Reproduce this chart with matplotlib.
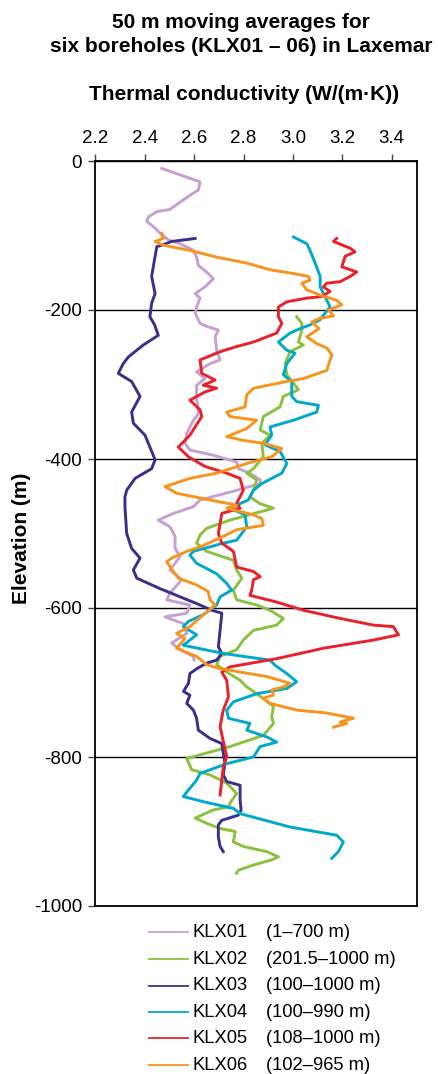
import matplotlib
matplotlib.use("Agg")
import matplotlib.pyplot as plt
from matplotlib.lines import Line2D

plt.rcParams['font.family'] = ['Liberation Sans', 'DejaVu Sans']

# ---- data: elevation (m) and 50 m moving-average thermal conductivity (W/(m·K)) ----
klx01_elev = [-10, -28, -39, -46, -57, -65, -68, -75, -81, -90, -97, -106, -111, -120, -129,
              -140, -151, -158, -169, -178, -184, -196, -204, -218, -222, -227, -236, -254,
              -267, -272, -283, -292, -301, -316, -339, -352, -366, -379, -388, -395, -404,
              -413, -419, -428, -433, -442, -448, -455, -464, -473, -482, -491, -504, -520,
              -531, -549, -562, -580, -589, -596, -607, -612, -621, -634, -647, -656, -665, -670]
klx01_tc = [2.469, 2.624, 2.617, 2.583, 2.536, 2.502, 2.449, 2.415, 2.408, 2.442, 2.462, 2.496,
            2.543, 2.597, 2.610, 2.617, 2.657, 2.678, 2.644, 2.604, 2.624, 2.610, 2.604, 2.624,
            2.651, 2.698, 2.685, 2.691, 2.705, 2.664, 2.610, 2.644, 2.610, 2.610, 2.617, 2.590,
            2.570, 2.563, 2.583, 2.678, 2.772, 2.779, 2.826, 2.867, 2.867, 2.772, 2.705, 2.624,
            2.597, 2.516, 2.455, 2.502, 2.523, 2.523, 2.543, 2.502, 2.550, 2.502, 2.489, 2.583,
            2.570, 2.482, 2.556, 2.570, 2.509, 2.543, 2.597, 2.600]

klx02_elev = [-209, -218, -227, -243, -247, -256, -272, -287, -298, -307, -316, -330, -343, -361,
              -368, -379, -397, -413, -419, -428, -442, -451, -460, -466, -471, -482, -493, -502,
              -513, -524, -536, -549, -560, -576, -589, -596, -603, -614, -623, -630, -643, -656,
              -665, -676, -686, -697, -706, -715, -732, -746, -755, -771, -777, -786, -791, -802,
              -817, -824, -835, -849, -862, -867, -871, -882, -889, -896, -900, -914, -920, -927,
              -934, -938, -945, -952, -956]
klx02_tc = [3.015, 3.036, 3.036, 3.022, 3.042, 2.988, 2.968, 2.975, 3.002, 3.022, 2.961, 2.948,
            2.880, 2.867, 2.907, 2.874, 2.880, 2.840, 2.813, 2.853, 2.840, 2.826, 2.867, 2.921,
            2.867, 2.745, 2.651, 2.624, 2.610, 2.651, 2.759, 2.772, 2.793, 2.759, 2.772, 2.853,
            2.907, 2.961, 2.934, 2.840, 2.799, 2.772, 2.705, 2.691, 2.732, 2.786, 2.813, 2.853,
            2.921, 2.914, 2.921, 2.880, 2.826, 2.745, 2.691, 2.570, 2.590, 2.664, 2.732, 2.772,
            2.745, 2.739, 2.678, 2.604, 2.651, 2.705, 2.766, 2.759, 2.799, 2.894, 2.941, 2.914,
            2.840, 2.779, 2.772]

klx03_elev = [-104, -108, -113, -115, -128, -155, -178, -191, -209, -220, -234, -247, -263, -272,
              -285, -296, -316, -337, -352, -368, -384, -401, -413, -426, -442, -451, -464, -500,
              -520, -533, -549, -560, -574, -585, -594, -603, -607, -630, -652, -661, -670, -674,
              -681, -688, -701, -712, -717, -728, -737, -748, -764, -775, -782, -795, -808, -824,
              -833, -838, -858, -871, -878, -885, -891, -907, -920, -927]
klx03_tc = [2.604, 2.509, 2.469, 2.449, 2.442, 2.428, 2.442, 2.428, 2.421, 2.440, 2.455, 2.394,
            2.334, 2.313, 2.293, 2.347, 2.381, 2.347, 2.354, 2.401, 2.421, 2.442, 2.428, 2.361,
            2.327, 2.320, 2.320, 2.327, 2.347, 2.381, 2.354, 2.368, 2.462, 2.543, 2.610, 2.671,
            2.712, 2.705, 2.698, 2.712, 2.691, 2.651, 2.613, 2.583, 2.577, 2.557, 2.583, 2.570,
            2.597, 2.610, 2.617, 2.664, 2.712, 2.718, 2.725, 2.718, 2.732, 2.786, 2.786, 2.790,
            2.779, 2.712, 2.698, 2.698, 2.705, 2.718]

klx04_elev = [-102, -111, -120, -137, -155, -169, -182, -196, -207, -213, -220, -225, -231, -243,
              -254, -258, -272, -287, -296, -316, -323, -328, -337, -348, -357, -368, -381, -390,
              -406, -419, -433, -442, -455, -466, -475, -491, -509, -513, -524, -529, -540, -554,
              -567, -576, -585, -596, -609, -618, -625, -636, -650, -661, -670, -677, -688, -699,
              -708, -715, -726, -737, -748, -755, -764, -773, -780, -786, -800, -809, -822, -831,
              -853, -860, -869, -876, -894, -905, -914, -927, -936]
klx04_tc = [3.002, 3.056, 3.069, 3.090, 3.110, 3.110, 3.130, 3.150, 3.123, 3.110, 3.069, 3.029,
            2.988, 2.941, 2.975, 3.008, 2.975, 2.961, 2.995, 2.995, 3.015, 3.103, 3.096, 3.002,
            2.907, 2.914, 2.887, 2.948, 2.975, 2.955, 2.874, 2.840, 2.819, 2.745, 2.806, 2.813,
            2.772, 2.718, 2.597, 2.583, 2.610, 2.691, 2.732, 2.752, 2.705, 2.691, 2.637, 2.577,
            2.556, 2.610, 2.556, 2.718, 2.907, 2.928, 2.975, 3.015, 2.975, 2.853, 2.759, 2.732,
            2.739, 2.826, 2.813, 2.894, 2.934, 2.867, 2.840, 2.732, 2.624, 2.610, 2.556, 2.637,
            2.759, 2.786, 2.988, 3.177, 3.204, 3.184, 3.157]

klx05_elev = [-104, -108, -117, -122, -128, -142, -149, -155, -162, -164, -169, -175, -182, -184,
              -189, -196, -209, -218, -231, -243, -249, -256, -267, -285, -294, -301, -305, -310,
              -321, -334, -343, -357, -368, -384, -397, -410, -419, -426, -442, -455, -460, -466,
              -473, -500, -513, -524, -545, -551, -558, -562, -576, -583, -592, -603, -614, -623,
              -625, -636, -643, -654, -668, -679, -686, -697, -719, -737, -759, -779, -800, -813,
              -831, -851]
klx05_tc = [3.177, 3.164, 3.231, 3.251, 3.211, 3.198, 3.258, 3.231, 3.191, 3.137, 3.123, 3.150,
            3.117, 3.056, 2.975, 2.941, 2.941, 2.955, 2.934, 2.840, 2.772, 2.705, 2.624, 2.631,
            2.685, 2.637, 2.691, 2.644, 2.583, 2.624, 2.631, 2.604, 2.583, 2.536, 2.577, 2.644,
            2.732, 2.786, 2.799, 2.779, 2.772, 2.786, 2.712, 2.698, 2.712, 2.759, 2.772, 2.840,
            2.867, 2.840, 2.833, 2.826, 2.934, 3.042, 3.191, 3.326, 3.406, 3.427, 3.326, 3.123,
            2.934, 2.745, 2.712, 2.732, 2.739, 2.718, 2.705, 2.718, 2.732, 2.718, 2.712, 2.705]

klx06_elev = [-97, -104, -108, -113, -120, -129, -137, -146, -151, -155, -160, -164, -173, -180,
              -187, -193, -200, -208, -211, -216, -225, -236, -245, -251, -260, -281, -292, -296,
              -305, -314, -330, -337, -343, -348, -359, -370, -375, -379, -386, -397, -406, -419,
              -426, -437, -446, -455, -462, -466, -475, -480, -489, -495, -506, -518, -524, -533,
              -538, -551, -560, -569, -578, -589, -596, -607, -625, -634, -641, -654, -665, -676,
              -681, -686, -692, -701, -706, -710, -717, -721, -728, -737, -741, -748, -753, -755,
              -760]
klx06_tc = [2.469, 2.475, 2.442, 2.475, 2.583, 2.691, 2.813, 2.907, 3.002, 3.063, 3.069, 3.036,
            3.056, 3.110, 3.177, 3.198, 3.144, 3.164, 3.110, 3.076, 3.105, 3.056, 3.096, 3.137,
            3.157, 3.137, 3.042, 2.975, 2.840, 2.813, 2.806, 2.732, 2.745, 2.853, 2.813, 2.732,
            2.799, 2.880, 2.955, 2.914, 2.813, 2.691, 2.583, 2.482, 2.529, 2.664, 2.772, 2.732,
            2.840, 2.874, 2.880, 2.772, 2.705, 2.624, 2.570, 2.509, 2.489, 2.516, 2.536, 2.610,
            2.657, 2.664, 2.685, 2.644, 2.583, 2.529, 2.563, 2.529, 2.610, 2.650, 2.700, 2.786,
            2.894, 2.988, 2.961, 2.914, 2.921, 2.880, 2.907, 3.015, 3.137, 3.245, 3.191, 3.218,
            3.164]

names = ["KLX01", "KLX02", "KLX03", "KLX04", "KLX05", "KLX06"]
ranges = ["(1\u2013700 m)", "(201.5\u20131000 m)", "(100\u20131000 m)",
          "(100\u2013990 m)", "(108\u20131000 m)", "(102\u2013965 m)"]
colors = ["#C6A0D2", "#8CC13F", "#3A2F8C", "#00A9CC", "#E8212B", "#F7941E"]

x_ticks = [2.2, 2.4, 2.6, 2.8, 3.0, 3.2, 3.4]
x_ticklabels = ["2.2", "2.4", "2.6", "2.8", "3.0", "3.2", "3.4"]
y_ticks = [0, -200, -400, -600, -800, -1000]

series = [(klx01_tc, klx01_elev), (klx02_tc, klx02_elev), (klx03_tc, klx03_elev),
          (klx04_tc, klx04_elev), (klx05_tc, klx05_elev), (klx06_tc, klx06_elev)]

# ---- figure ----
W, H = 438, 1074
fig = plt.figure(figsize=(W / 100, H / 100), dpi=100)
ax = fig.add_axes([95.3 / W, 1 - 906 / H, (416.5 - 95.3) / W, (906 - 161) / H])

for (tc, el), c in zip(series, colors):
    ax.plot(tc, el, color=c, lw=2.1, solid_joinstyle='round')

ax.set_xlim(2.2, 3.5)
ax.set_ylim(-1000, 0)
ax.xaxis.tick_top()
ax.set_xticks(x_ticks)
ax.set_xticklabels(x_ticklabels)
ax.set_yticks(y_ticks)
ax.set_yticklabels([str(v) for v in y_ticks])
ax.tick_params(axis='both', direction='out', length=5, width=1.0, labelsize=13.5,
               color='#444444')
ax.tick_params(axis='x', pad=5)
ax.tick_params(axis='y', pad=4.5)
ax.yaxis.grid(True, color='black', lw=1.0)
ax.set_axisbelow(True)
for sp in ax.spines.values():
    sp.set_color('black')
    sp.set_linewidth(1.3)

# axis title for elevation
fig.text(22 / W, 1 - 538 / H, "Elevation (m)", rotation=90, ha='center', va='center',
         fontsize=15, fontweight='bold')

# titles above the axis
cx = 241 / W
fig.text(cx, 1 - 28.5 / H, "50 m moving averages for", ha='center', va='baseline',
         fontsize=15, fontweight='bold')
fig.text(cx, 1 - 52 / H, "six boreholes (KLX01 \u2013 06) in Laxemar", ha='center',
         va='baseline', fontsize=15, fontweight='bold')
fig.text(244 / W, 1 - 99.5 / H, "Thermal conductivity (W/(m\u00b7K))", ha='center',
         va='baseline', fontsize=15, fontweight='bold')

# legend below the axis
row_y = [932.3, 959.3, 985.7, 1012.3, 1038.3, 1065.0]
for ry, nm, rg, c in zip(row_y, names, ranges, colors):
    fy = 1 - ry / H
    fig.add_artist(Line2D([149 / W, 188 / W], [fy, fy], color=c, lw=1.3,
                          transform=fig.transFigure))
    fig.text(193 / W, fy, nm, ha='left', va='center', fontsize=13.2)
    fig.text(265.5 / W, fy, rg, ha='left', va='center', fontsize=13.2)

fig.savefig("out.png", dpi=100)
